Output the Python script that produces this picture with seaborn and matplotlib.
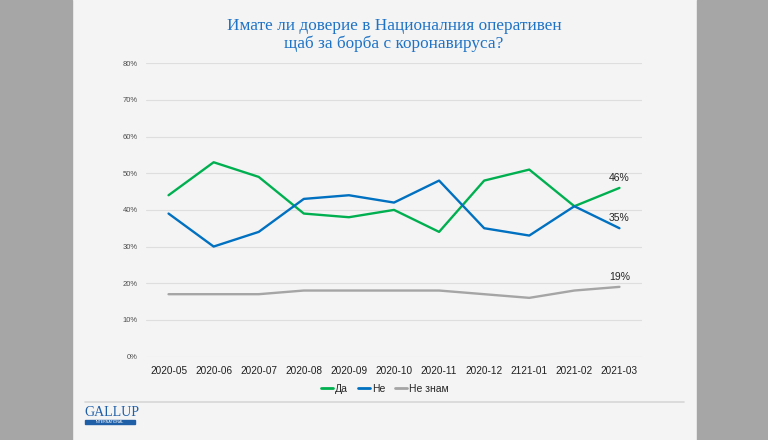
import matplotlib
matplotlib.use('Agg')
import matplotlib.pyplot as plt
import seaborn as sns
import pandas as pd
from matplotlib.patches import Rectangle
from matplotlib.lines import Line2D

months = ['2020-05', '2020-06', '2020-07', '2020-08', '2020-09', '2020-10',
          '2020-11', '2020-12', '2121-01', '2021-02', '2021-03']
da = [44, 53, 49, 39, 38, 40, 34, 48, 51, 41, 46]
ne = [39, 30, 34, 43, 44, 42, 48, 35, 33, 41, 35]
ne_znam = [17, 17, 17, 18, 18, 18, 18, 17, 16, 18, 19]
series_names = ['Да', 'Не', 'Не знам']
colors = ['#00b050', '#0070c0', '#a5a5a5']

rows = []
for name, vals in zip(series_names, [da, ne, ne_znam]):
    for i, v in enumerate(vals):
        rows.append({'month': i, 'value': v, 'series': name})
df = pd.DataFrame(rows)

sns.set_theme(style='white')
plt.rcParams['font.family'] = ['Liberation Sans', 'DejaVu Sans']

fig = plt.figure(figsize=(7.68, 4.4), dpi=100)
fig.patch.set_facecolor('#f4f4f4')

# gray side strips
fig.patches.append(Rectangle((0, 0), 72 / 768, 1, transform=fig.transFigure,
                             color='#a6a6a6', zorder=0))
fig.patches.append(Rectangle((697 / 768, 0), 71 / 768, 1, transform=fig.transFigure,
                             color='#a6a6a6', zorder=0))

ax = fig.add_axes([146 / 768, 1 - 356.5 / 440, 496 / 768, 293.2 / 440])
ax.set_facecolor('#f4f4f4')

sns.lineplot(data=df, x='month', y='value', hue='series', palette=colors,
             hue_order=series_names, linewidth=1.7, ax=ax, legend=False)

ax.set_xlim(-0.5, 10.5)
ax.set_ylim(0, 80)
ax.set_yticks(range(0, 81, 10))
ax.set_yticklabels(['{}%'.format(v) for v in range(0, 81, 10)], fontsize=5.5, color='#4d4d4d')
ax.set_xticks(range(len(months)))
ax.set_xticklabels(months, fontsize=7.2, color='#1f1f1f')
ax.tick_params(axis='both', length=0)
ax.tick_params(axis='x', pad=7)
ax.tick_params(axis='y', pad=6)
ax.yaxis.grid(True, color='#dedede', linewidth=0.8)
ax.set_axisbelow(True)
for s in ax.spines.values():
    s.set_visible(False)
ax.set_xlabel('')
ax.set_ylabel('')

# end labels
for vals in [da, ne, ne_znam]:
    ax.annotate('{}%'.format(vals[-1]), (10, vals[-1]), xytext=(0, 3.5),
                textcoords='offset points', ha='center', va='bottom',
                fontsize=7.5, color='#262626')

# legend
handles = [Line2D([0], [0], color=c, lw=2) for c in colors]
fig.legend(handles, series_names, loc='center', bbox_to_anchor=(385 / 768, 1 - 389 / 440),
           ncol=3, frameon=False, fontsize=7.5, handlelength=1.15, handletextpad=0.15,
           columnspacing=1.0)

# title
fig.text(394 / 768, 1 - 35 / 440,
         'Имате ли доверие в Националния оперативен\nщаб за борба с коронавируса?',
         ha='center', va='center', fontsize=12.4, color='#1f73c6',
         family=['Liberation Serif', 'DejaVu Serif'], linespacing=1.2)

# separator line
fig.add_artist(Line2D([85 / 768, 684 / 768], [1 - 402 / 440, 1 - 402 / 440],
                      transform=fig.transFigure, color='#d6d6d6', lw=1.2))

# logo
fig.text(84 / 768, 1 - 412.5 / 440, 'GALLUP', ha='left', va='center', fontsize=10,
         color='#1f5fa8', family=['Liberation Serif'])
fig.patches.append(Rectangle((85 / 768, 1 - 424 / 440), 50 / 768, 4.5 / 440,
                             transform=fig.transFigure, color='#1f5fa8', zorder=2))
fig.text(110 / 768, 1 - 421.8 / 440, 'INTERNATIONAL', ha='center', va='center',
         fontsize=2.6, color='white', zorder=3)

plt.savefig('out.png', dpi=100, facecolor=fig.get_facecolor())
